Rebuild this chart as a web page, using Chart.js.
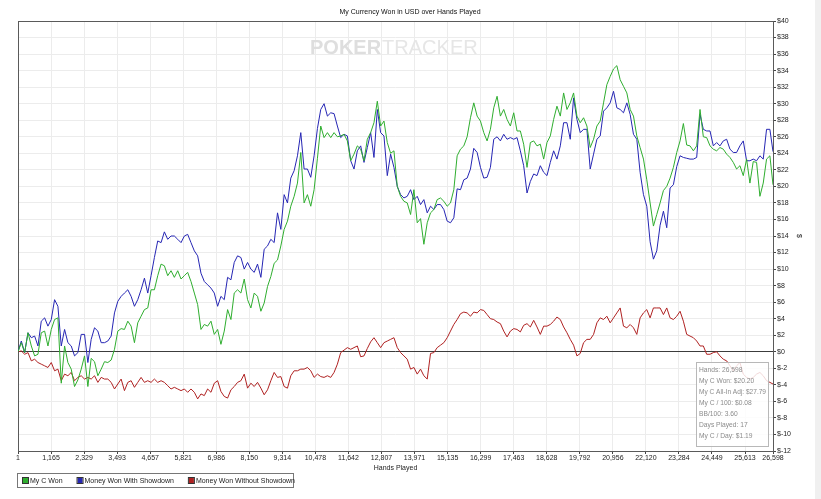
<!DOCTYPE html>
<html>
<head>
<meta charset="utf-8">
<title>My Currency Won in USD over Hands Played</title>
<script src="https://cdn.jsdelivr.net/npm/chart.js@4.4.1/dist/chart.umd.min.js"></script>
<style>
  html, body { margin: 0; padding: 0; background: #fff; }
  #chartWrap { position: relative; width: 821px; height: 499px; }
</style>
</head>
<body>
<div id="chartWrap"><canvas id="wonChart"></canvas></div>
<script>
// ------------ data -------------------------------------------------

// hands played at each sample
const hands = [
  1, 118, 235, 353, 470, 587, 704, 821, 939, 1056,
  1173, 1290, 1407, 1525, 1642, 1759, 1876, 1993, 2111, 2228,
  2345, 2462, 2579, 2697, 2814, 2931, 3048, 3165, 3283, 3400,
  3517, 3634, 3751, 3869, 3986, 4103, 4220, 4337, 4455, 4572,
  4689, 4806, 4923, 5041, 5158, 5275, 5392, 5509, 5627, 5744,
  5861, 5978, 6095, 6213, 6330, 6447, 6564, 6681, 6799, 6916,
  7033, 7150, 7267, 7385, 7502, 7619, 7736, 7853, 7971, 8088,
  8205, 8322, 8439, 8557, 8674, 8791, 8908, 9025, 9143, 9260,
  9377, 9494, 9611, 9729, 9846, 9963, 10080, 10197, 10315, 10432,
  10549, 10666, 10783, 10901, 11018, 11135, 11252, 11369, 11487, 11604,
  11721, 11838, 11955, 12073, 12190, 12307, 12424, 12541, 12659, 12776,
  12893, 13010, 13127, 13245, 13362, 13479, 13596, 13713, 13831, 13948,
  14065, 14182, 14299, 14417, 14534, 14651, 14768, 14885, 15003, 15120,
  15237, 15354, 15471, 15589, 15706, 15823, 15940, 16057, 16175, 16292,
  16409, 16526, 16643, 16761, 16878, 16995, 17112, 17229, 17347, 17464,
  17581, 17698, 17815, 17933, 18050, 18167, 18284, 18401, 18519, 18636,
  18753, 18870, 18987, 19105, 19222, 19339, 19456, 19573, 19691, 19808,
  19925, 20042, 20159, 20277, 20394, 20511, 20628, 20745, 20863, 20980,
  21097, 21214, 21331, 21449, 21566, 21683, 21800, 21917, 22035, 22152,
  22269, 22386, 22503, 22621, 22738, 22855, 22972, 23089, 23207, 23324,
  23441, 23558, 23675, 23793, 23910, 24027, 24144, 24261, 24379, 24496,
  24613, 24730, 24847, 24965, 25082, 25199, 25316, 25433, 25551, 25668,
  25785, 25902, 26019, 26137, 26254, 26371, 26488, 26598
];

// My C Won (green)
const cWon = [
  0.0, 1.1, -0.1, 2.3, 0.7, -0.5, -0.3, 2.3, 2.5, 0.7,
  2.7, 3.9, 4.1, -3.8, 0.7, -1.3, -2.1, -4.2, -3.4, -2.1,
  -0.5, -4.2, -0.8, -1.2, -2.9, -2.1, -1.2, -1.3, -1.0, 0.3,
  2.5, 2.8, 2.7, 3.7, 3.1, 1.1, 3.5, 4.3, 5.1, 5.3,
  7.5, 7.5, 9.2, 10.6, 10.4, 9.2, 9.8, 9.0, 9.8, 8.8,
  9.2, 9.6, 8.5, 7.1, 5.7, 2.7, 3.3, 3.1, 3.7,
  2.1, 2.7, 0.9, 2.5, 5.1, 3.9, 7.1, 7.5,
  7.1, 8.8, 6.3, 5.3, 7.1, 6.7, 4.9, 5.9, 7.9, 9.1,
  10.7, 11.1, 12.8, 14.8, 15.8, 17.6, 18.8, 20.4, 24.1, 18.0,
  19.0, 17.6, 19.6, 23.4, 27.3, 25.9, 26.5, 25.9, 26.5, 26.0,
  26.1, 26.3, 25.5, 23.1, 23.9, 24.9, 24.5, 23.1, 25.7, 26.5,
  27.7, 30.3, 27.3, 27.9, 25.3, 24.0, 24.3, 20.0, 18.8,
  18.2, 18.0, 16.6, 19.6, 15.6, 16.1, 13.0, 15.6,
  16.8, 17.2, 18.4, 18.6, 18.2, 17.6, 18.0, 19.6, 23.7, 24.5,
  24.9, 26.0, 28.3, 30.1, 28.5, 27.9, 26.5, 25.5, 26.9, 29.5,
  30.9, 28.5, 29.3, 28.1, 27.3, 28.9, 26.7, 26.7, 25.1, 22.3,
  25.3, 25.5, 24.9, 25.1, 23.3, 25.3, 26.1, 28.1, 29.7, 28.5,
  31.3, 29.3, 30.1, 31.3, 28.5, 27.7, 28.3, 27.3, 24.7,
  25.7, 27.3, 27.9, 30.1, 32.3, 33.3, 34.2, 34.6,
  32.9, 32.1, 31.3, 29.3, 28.5, 26.1, 24.7, 23.3, 20.8, 18.0,
  15.2, 16.6, 18.0, 19.5, 20.0, 21.0, 22.3, 24.1, 25.5, 27.6,
  25.0, 24.9, 24.3, 24.9, 29.3, 26.0, 25.9, 24.9, 24.5, 24.3,
  24.7, 24.5, 23.9, 23.5, 22.9, 22.1, 22.5, 21.3, 23.3, 20.4,
  23.0, 22.9, 18.8, 20.4, 23.3, 23.7, 20.2
];

// Money Won With Showdown (blue)
const withShowdown = [
  0.0, 1.3, -0.1, 2.3, 1.7, 1.9, 0.7, 3.7, 4.1, 3.1,
  3.9, 6.3, 5.5, 0.7, 2.7, 1.1, 0.7, -0.5, -0.1, 2.1,
  2.1, -1.3, 1.5, 2.9, 2.5, 1.1, 1.1, 1.3, 1.9, 4.7,
  6.1, 6.7, 7.1, 7.5, 6.7, 5.5, 6.3, 7.5, 8.9, 7.1,
  9.2, 11.4, 13.4, 13.2, 14.5, 13.6, 14.0, 14.0, 13.6, 13.2,
  14.0, 14.2, 13.2, 12.2, 11.6, 9.5, 8.5, 8.1, 7.7,
  7.1, 5.5, 6.7, 6.3, 9.0, 8.7, 10.8, 11.6,
  11.4, 10.0, 10.8, 10.0, 9.6, 10.6, 9.0, 12.4, 12.8, 13.6,
  13.2, 16.8, 14.8, 19.0, 18.0, 21.0, 21.9, 23.7, 26.5, 22.1,
  22.1, 21.1, 23.7, 27.0, 29.3, 30.0, 28.5, 28.9, 28.8, 27.3,
  25.9, 26.3, 26.1, 23.1, 22.1, 24.3, 24.9, 22.9, 24.7, 26.5,
  23.5, 29.3, 26.5, 26.1, 21.3, 23.9, 22.3, 20.0, 19.0,
  18.6, 18.8, 19.6, 18.4, 18.8, 17.8, 18.4, 16.8,
  17.6, 17.2, 17.8, 17.8, 17.2, 15.8, 15.6, 16.2, 19.7, 19.6,
  20.8, 21.0, 22.1, 24.6, 24.1, 22.3, 21.0, 21.1, 22.3, 25.7,
  26.0, 25.5, 26.3, 25.7, 25.9, 25.7, 25.9, 24.3, 22.5, 19.2,
  20.6, 21.5, 21.3, 22.5, 21.7, 21.3, 22.9, 24.3, 23.3, 24.9,
  27.7, 27.7, 25.7, 30.7, 28.1, 26.5, 26.9, 26.9, 22.1,
  23.9, 25.7, 26.1, 29.1, 29.5, 30.1, 31.5, 29.5,
  29.3, 28.9, 30.1, 28.7, 26.3, 25.7, 21.7, 19.0, 17.6, 13.3,
  11.2, 12.2, 15.3, 17.0, 15.0, 19.8, 20.2, 22.4, 23.7, 23.5,
  23.4, 23.3, 23.3, 23.5, 28.7, 26.9, 26.7, 26.7, 24.9, 25.3,
  24.9, 25.5, 25.7, 24.5, 24.1, 24.1, 24.9, 25.5, 23.1, 23.1,
  23.3, 23.1, 23.7, 23.3, 26.9, 26.9, 24.2
];

// Money Won Without Showdown (red)
const withoutShowdown = [
  0.0, 0.1, -0.3, -0.1, -1.1, -0.9, -1.3, -1.5, -1.7, -1.9,
  -1.3, -2.3, -2.1, -3.5, -2.7, -2.9, -2.5, -3.5, -3.1, -2.9,
  -3.3, -3.1, -3.3, -2.9, -3.7, -3.1, -3.3, -3.3, -3.7, -4.5,
  -3.9, -3.3, -4.7, -3.7, -3.5, -4.3, -3.7, -3.1, -3.7, -3.5,
  -3.7, -3.3, -3.7, -3.5, -3.7, -4.1, -4.5, -4.3, -4.5, -4.7,
  -4.5, -4.9, -4.5, -4.9, -5.7, -5.1, -5.3, -4.5, -4.9,
  -3.8, -3.5, -4.8, -5.4, -5.6, -4.6, -4.2, -3.7,
  -3.5, -2.7, -4.4, -3.8, -4.2, -3.7, -4.4, -5.2, -4.6, -3.5,
  -2.5, -3.1, -3.0, -4.2, -4.4, -2.9, -2.3, -2.3, -2.1, -2.1,
  -1.9, -2.3, -3.1, -2.7, -3.0, -3.1, -2.9, -3.1, -2.5, -1.5,
  -0.1, 0.2, 0.5, 0.3, 0.5, 0.7, -0.6, -0.5, 0.4, 1.2,
  1.7, 1.1, 0.5, 1.1, 1.3, 1.5, 1.7, 0.5, -0.1,
  -0.5, -0.9, -2.1, -1.9, -2.7, -2.1, -2.9, -3.3,
  -0.2, -0.1, 0.5, 0.8, 1.1, 1.7, 2.5, 3.3, 3.9, 4.6,
  4.8, 4.7, 4.3, 4.8, 4.7, 5.1, 5.0, 4.5, 4.0, 3.9,
  3.6, 3.4, 2.5, 1.8, 2.5, 2.8, 2.7, 2.4, 3.2, 3.4,
  3.0, 3.8, 3.0, 2.1, 3.1, 3.1, 3.3, 3.7, 4.2, 3.9,
  3.0, 2.3, 1.5, 0.8, -0.5, -0.2, 1.1, 1.5, 1.5,
  2.1, 3.5, 4.1, 3.9, 4.3, 3.5, 4.1, 4.7,
  5.3, 3.1, 2.9, 3.3, 2.9, 2.1, 4.1, 4.7, 5.1, 4.1,
  5.3, 5.3, 5.3, 4.5, 5.3, 4.1, 3.9, 4.3, 4.9, 3.7,
  2.1, 1.9, 1.7, 1.3, 0.7, 0.7, -0.3, -0.3, -0.1, 0.0,
  -0.5, -0.9, -1.1, -1.7, -2.3, -1.7, -1.3, -2.7, -3.1, -3.3,
  -3.1, -2.7, -2.5, -2.9, -3.5, -3.7, -3.9
];

// axis ticks
const handTicks = [1, 1165, 2329, 3493, 4657, 5821, 6986, 8150, 9314, 10478, 11642, 12807,
  13971, 15135, 16299, 17463, 18628, 19792, 20956, 22120, 23284, 24449, 25613, 26598];
const dollarMin = -12;
const dollarMax = 40;
const dollarStep = 2;

// summary box text
const summaryLines = ["Hands: 26,598", "My C Won: $20.20", "My C All-In Adj: $27.79",
  "My C / 100: $0.08", "BB/100: 3.60", "Days Played: 17", "My C / Day: $1.19"];

const seriesNames = ["My C Won", "Money Won With Showdown", "Money Won Without Showdown"];
const seriesColors = ["#2fae2f", "#2626b4", "#b02222"];

const FONT = "'Liberation Sans', Arial, sans-serif";

function toPoints(values) {
  return values.map((v, i) => ({ x: hands[i], y: v }));
}

// ------------ extra drawing: background, frame, watermark, title, legend, summary box ----------
const pageDecor = {
  id: 'pageDecor',
  beforeDraw(chart) {
    const ctx = chart.ctx;
    ctx.save();
    ctx.fillStyle = '#ffffff';
    ctx.fillRect(0, 0, chart.width, chart.height);
    ctx.fillStyle = '#f0f0f0';
    ctx.fillRect(815, 0, chart.width - 815, chart.height);
    ctx.restore();
  },
  beforeDatasetsDraw(chart) {
    const ctx = chart.ctx;
    const a = chart.chartArea;
    ctx.save();
    // watermark
    ctx.textBaseline = 'middle';
    ctx.textAlign = 'left';
    ctx.font = "bold 20px " + FONT;
    ctx.fillStyle = '#dedede';
    const wx = 310, wy = 48;
    ctx.fillText('POKER', wx, wy);
    const w1 = ctx.measureText('POKER').width;
    ctx.font = "20px " + FONT;
    ctx.fillStyle = '#e6e6e6';
    ctx.fillText('TRACKER', wx + w1 + 1, wy);
    // frame around plot
    ctx.strokeStyle = '#5a5a5a';
    ctx.lineWidth = 1;
    ctx.strokeRect(Math.round(a.left) + 0.5, Math.round(a.top) + 0.5,
      Math.round(a.right - a.left), Math.round(a.bottom - a.top));
    ctx.restore();
  },
  afterDraw(chart) {
    const ctx = chart.ctx;
    ctx.save();
    // title
    ctx.font = "7px " + FONT;
    ctx.fillStyle = '#111';
    ctx.textAlign = 'center';
    ctx.textBaseline = 'middle';
    ctx.fillText('My Currency Won in USD over Hands Played', 410, 12);

    // summary box
    ctx.fillStyle = 'rgba(255,255,255,0.82)';
    ctx.fillRect(696.5, 362.5, 72, 84);
    ctx.strokeStyle = '#b8b8b8';
    ctx.strokeRect(696.5, 362.5, 72, 84);
    ctx.font = "6.7px " + FONT;
    ctx.fillStyle = '#8c8c8c';
    ctx.textAlign = 'left';
    summaryLines.forEach((line, i) => {
      ctx.fillText(line, 699, 370 + i * 11.1, 67);
    });

    // legend
    ctx.strokeStyle = '#777';
    ctx.strokeRect(17.5, 473.5, 276, 14);
    ctx.font = "7px " + FONT;
    let lx = 23;
    seriesNames.forEach((name, i) => {
      ctx.fillStyle = seriesColors[i];
      ctx.fillRect(lx, 478, 5, 5);
      ctx.strokeStyle = '#333';
      ctx.strokeRect(lx - 0.5, 477.5, 6, 6);
      ctx.fillStyle = '#222';
      ctx.fillText(name, lx + 7, 481);
      lx += 7 + ctx.measureText(name).width + 15;
    });
    ctx.restore();
  }
};

// ------------ chart ------------------------------
const ctx = document.getElementById('wonChart').getContext('2d');

const wonChart = new Chart(ctx, {
  type: 'line',
  data: {
    datasets: [
      { label: seriesNames[0], data: toPoints(cWon), borderColor: seriesColors[0] },
      { label: seriesNames[1], data: toPoints(withShowdown), borderColor: seriesColors[1] },
      { label: seriesNames[2], data: toPoints(withoutShowdown), borderColor: seriesColors[2] }
    ]
  },
  options: {
    responsive: true,
    maintainAspectRatio: false,
    devicePixelRatio: 1,
    animation: false,
    events: [],
    elements: {
      line: { borderWidth: 1, tension: 0, fill: false },
      point: { radius: 0 }
    },
    layout: { padding: { left: 18, top: 21, right: 6, bottom: 25 } },
    scales: {
      x: {
        type: 'linear',
        min: 1,
        max: 26598,
        afterBuildTicks: (scale) => {
          scale.ticks = handTicks.map(v => ({ value: v }));
        },
        afterFit: (scale) => { scale.height = 23; },
        grid: { color: '#ececec', tickColor: '#444', tickLength: 3 },
        border: { color: '#444' },
        ticks: {
          autoSkip: false,
          maxRotation: 0,
          padding: 0,
          color: '#222',
          font: { family: FONT, size: 7 },
          callback: (v) => Number(v).toLocaleString('en-US')
        },
        title: {
          display: true,
          text: 'Hands Played',
          color: '#222',
          font: { family: FONT, size: 7 },
          padding: { top: 0, bottom: 2 }
        }
      },
      y: {
        position: 'right',
        min: dollarMin,
        max: dollarMax,
        afterFit: (scale) => { scale.width = 42; },
        grid: {
          color: (c) => (c.tick && c.tick.value === 0 ? '#3c3c3c' : '#ececec'),
          tickColor: '#444',
          tickLength: 3
        },
        border: { color: '#333' },
        ticks: {
          stepSize: dollarStep,
          padding: 1,
          color: '#222',
          font: { family: FONT, size: 7 },
          callback: (v) => '$' + v
        },
        title: {
          display: true,
          text: '$',
          color: '#222',
          font: { family: FONT, size: 7 },
          padding: { top: 12, bottom: 0 }
        }
      }
    },
    plugins: {
      legend: { display: false },
      tooltip: { enabled: false },
      title: { display: false }
    }
  },
  plugins: [pageDecor]
});
</script>
</body>
</html>
